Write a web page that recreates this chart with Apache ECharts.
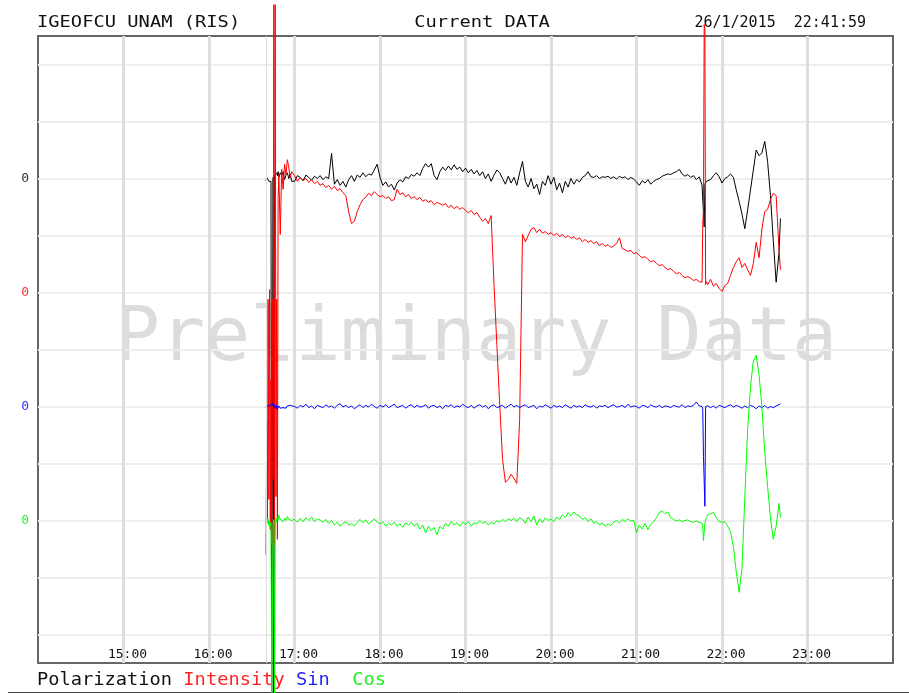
<!DOCTYPE html>
<html><head><meta charset="utf-8">
<script src="https://cdn.jsdelivr.net/npm/echarts@6/dist/echarts.min.js"></script>
<style>html,body{margin:0;padding:0;background:#fff}#c{width:909px;height:693px}</style>
</head><body><div id="c"></div>
<script>
// sample times, minutes after 16:00
const minutes = [
  40,40.5,41,41.5,42,42.5,43,43.5,44,44.5,45,45.5,46,46.5,47,47.5,48,48.5,49,50,51,52,53,54,55,56,57,58,
  60,62,64,66,68,70,72,74,76,78,
  80,82,84,86,88,90,92,94,96,98,
  100,102,104,106,108,110,112,114,116,118,
  120,122,124,126,128,130,132,134,136,138,
  140,142,144,146,148,150,152,154,156,158,
  160,162,164,166,168,170,172,174,176,178,
  180,182,184,186,188,190,192,194,196,198,
  200,202,204,206,208,210,212,214,216,218,
  220,222,224,226,228,230,232,234,236,238,
  240,242,244,246,248,250,252,254,256,258,
  260,262,264,266,268,270,272,274,276,278,
  280,282,284,286,288,290,292,294,296,298,
  300,302,304,306,308,310,312,314,316,318,
  320,322,324,326,328,330,332,334,336,338,
  340,342,344,
  345,346,346.5,347,347.5,348,348.5,349,350,
  352,354,356,358,360,362,364,366,368,370,372,374,376,378,380,382,384,386,388,390,392,394,396,398,400,401
];
const polarization = [
  -0.04,0.02,0.05,0.02,-0.05,-0.04,-0.02,-0.05,-9.2,-9.2,0.02,-9.2,0.05,0.08,0.03,0.1,0.05,0.12,0.02,0.1,0.05,0.12,-0.02,0.06,0.1,0.0,0.08,-0.05,
  -0.05,0.05,0.02,-0.04,0.06,0.02,-0.03,0.04,0.0,0.05,
  -0.02,0.03,0.0,0.44,-0.1,-0.02,-0.12,-0.05,-0.15,-0.02,
  0.05,-0.05,0.06,0.02,0.1,0.03,0.08,0.06,0.15,0.25,
  0.02,-0.12,-0.06,-0.15,-0.1,-0.2,-0.08,-0.02,-0.06,0.03,
  0.0,0.07,0.04,0.1,0.05,0.18,0.26,0.2,0.26,0.05,
  -0.02,0.12,0.2,0.14,0.22,0.15,0.24,0.16,0.2,0.12,
  0.18,0.1,0.16,0.08,0.14,0.05,0.12,0.0,0.08,-0.05,
  0.06,0.15,0.1,0.0,-0.1,0.04,-0.08,0.02,-0.12,0.1,
  0.3,-0.05,-0.15,0.0,-0.18,-0.1,-0.28,-0.05,-0.12,0.05,
  -0.1,0.02,-0.2,-0.08,-0.25,-0.05,-0.15,0.0,-0.1,-0.02,
  -0.06,0.02,0.05,0.12,0.03,0.02,0.05,0.0,0.03,0.02,
  0.04,0.0,0.03,-0.01,0.04,0.01,0.03,-0.02,0.02,-0.01,
  -0.06,-0.12,-0.04,-0.08,-0.02,-0.1,-0.05,-0.02,0.0,0.04,
  0.06,0.08,0.07,0.1,0.12,0.16,0.08,0.04,0.07,0.02,
  0.05,-0.02,0.03,
  0.0,-0.12,-0.15,-0.6,-0.85,-0.1,-0.08,-0.05,-0.06,
  -0.02,0.05,0.1,0.03,-0.08,0.0,0.03,0.08,0.02,-0.2,-0.4,-0.62,-0.88,-0.55,-0.2,0.15,0.5,0.4,0.45,0.65,0.3,-0.3,-1.1,-1.82,-1.3,-0.7
];
const intensity = [
  -4.6,-2.23,-3.98,-0.12,-3.63,0.05,-4.16,-1.53,-4.42,-0.12,-3.28,5.05,-4.42,5.05,-3.58,-0.12,-4.33,1.63,2.07,1.02,2.16,1.81,2.25,2.07,2.33,2.19,2.02,2.12,
  2.05,1.95,2.02,1.96,2.0,1.93,1.98,1.91,1.95,1.88,
  1.91,1.84,1.88,1.81,1.86,1.79,1.82,1.75,1.7,1.42,
  1.21,1.25,1.42,1.54,1.63,1.67,1.74,1.7,1.77,1.72,
  1.68,1.7,1.65,1.68,1.61,1.63,1.81,1.72,1.75,1.68,
  1.72,1.65,1.68,1.63,1.67,1.6,1.63,1.58,1.61,1.54,
  1.58,1.56,1.53,1.56,1.49,1.53,1.47,1.51,1.46,1.49,
  1.44,1.4,1.44,1.37,1.4,1.32,1.25,1.3,1.21,1.35,
  0.14,-0.91,-1.96,-2.93,-3.33,-3.28,-3.19,-3.26,-3.35,-2.23,
  1.02,0.89,1.0,1.11,1.14,1.05,1.11,1.04,1.07,1.02,
  1.05,1.0,1.04,0.98,1.02,0.96,1.0,0.95,0.98,0.93,
  0.96,0.89,0.93,0.88,0.91,0.86,0.89,0.82,0.86,0.81,
  0.84,0.79,0.82,0.86,0.96,0.77,0.75,0.72,0.74,0.68,
  0.7,0.65,0.61,0.63,0.58,0.54,0.56,0.51,0.47,0.49,
  0.44,0.4,0.42,0.37,0.33,0.35,0.3,0.26,0.28,0.25,
  0.21,0.23,0.19,
  0.21,0.18,1.19,1.46,4.7,4.61,0.14,0.19,0.14,
  0.23,0.11,0.16,0.07,0.02,0.12,0.16,0.3,0.44,0.54,0.61,0.44,0.51,0.4,0.3,0.51,0.88,0.61,1.11,1.42,1.46,1.63,1.74,1.7,0.75,0.4
];
const sinValues = [
  -0.02,0.0,0.02,-0.01,0.03,0.0,0.04,0.01,0.05,0.02,0.06,-0.02,0.03,0.0,-0.04,0.02,-0.05,-0.02,0.01,-0.03,-0.06,-0.02,0.0,-0.03,0.01,-0.02,0.02,-0.01,
  0.0,-0.03,0.02,-0.01,0.04,-0.02,0.01,-0.04,0.02,0.0,
  -0.02,0.03,-0.01,0.01,-0.03,0.02,0.05,-0.01,0.02,-0.02,
  0.01,-0.04,0.0,0.03,-0.02,0.02,-0.01,0.04,0.0,-0.03,
  0.02,-0.01,0.03,-0.02,0.01,0.04,-0.02,0.0,0.02,-0.03,
  0.01,0.03,-0.02,0.02,-0.01,0.0,0.03,-0.03,0.01,0.02,
  -0.02,0.01,-0.04,0.02,0.0,0.03,-0.02,0.01,-0.01,0.04,
  0.0,-0.02,0.02,-0.03,0.01,0.03,-0.01,0.02,-0.04,0.01,
  0.03,-0.02,0.0,0.02,-0.03,0.01,0.04,-0.01,0.02,-0.02,
  0.01,0.03,-0.02,0.0,0.02,-0.04,0.01,-0.01,0.03,0.0,
  -0.03,0.02,-0.01,0.01,-0.02,0.03,0.0,-0.03,0.02,-0.01,
  0.01,-0.02,0.03,0.0,-0.01,0.02,-0.03,0.01,0.0,0.02,
  -0.02,0.01,0.03,-0.01,0.0,0.02,-0.02,0.04,-0.01,0.01,
  0.0,-0.03,0.02,0.01,-0.02,0.03,0.0,-0.01,0.02,-0.02,
  0.01,0.0,-0.02,0.02,0.0,-0.01,0.03,-0.02,0.01,0.0,
  0.02,0.08,0.01,
  0.02,0.0,-0.05,-0.88,-0.88,-1.75,0.0,-0.02,0.01,
  -0.02,0.01,-0.03,0.02,0.0,-0.02,0.01,0.03,-0.01,0.02,0.0,-0.03,0.01,-0.02,0.02,0.0,-0.04,0.01,-0.02,0.02,-0.03,0.0,-0.02,0.01,0.03,0.05
];
const cosValues = [
  0.0,0.05,-0.05,0.02,-0.09,-0.02,-0.1,-0.04,-3.25,-3.25,-0.07,0.02,-3.25,-0.02,0.04,-0.04,0.05,0.0,0.09,0.02,0.05,-0.02,0.04,0.0,0.07,0.02,0.05,0.0,
  0.02,-0.03,0.04,-0.02,0.05,0.0,0.06,-0.02,0.03,0.01,
  -0.03,0.02,-0.05,0.0,-0.08,-0.03,-0.1,-0.05,-0.02,-0.08,
  -0.05,-0.1,-0.03,0.02,-0.04,0.01,-0.06,-0.02,0.03,-0.03,
  -0.06,-0.02,-0.1,-0.05,-0.08,-0.03,-0.1,-0.06,-0.12,-0.04,
  -0.08,-0.03,-0.1,-0.05,-0.15,-0.08,-0.22,-0.1,-0.18,-0.12,
  -0.25,-0.1,-0.15,-0.05,-0.1,-0.02,-0.08,-0.04,-0.1,-0.03,
  -0.07,-0.02,-0.1,-0.04,-0.06,0.0,-0.05,-0.02,-0.08,-0.03,
  -0.06,0.0,-0.03,0.02,-0.02,0.03,0.0,0.04,-0.02,0.05,
  0.02,-0.05,0.06,-0.02,0.08,-0.08,0.03,-0.04,0.05,0.0,
  0.03,-0.02,0.06,0.02,0.1,0.05,0.14,0.08,0.15,0.1,
  0.08,0.02,0.05,-0.02,0.03,-0.05,-0.02,-0.08,-0.04,-0.1,
  -0.06,-0.09,-0.03,0.0,-0.04,0.02,-0.02,0.03,-0.01,0.0,
  -0.21,-0.08,-0.15,-0.05,-0.16,-0.07,-0.02,0.05,0.14,0.17,
  0.12,0.15,0.05,0.02,-0.01,0.01,-0.02,0.0,0.01,-0.02,
  -0.03,-0.01,-0.03,
  -0.03,-0.05,-0.1,-0.35,-0.2,-0.05,0.0,0.05,0.1,
  0.12,0.14,0.05,-0.02,-0.03,-0.02,-0.1,-0.2,-0.46,-0.9,-1.26,-0.85,0.4,1.6,2.35,2.8,2.9,2.55,2.0,1.2,0.6,0.05,-0.33,-0.1,0.3,0.05
];

const traceNames = ['Polarization', 'Intensity', 'Sin', 'Cos'];
const traceValues = [polarization, intensity, sinValues, cosValues];
const traceColors = ['#000000', '#ff0000', '#0000ff', '#00ff00'];
const traceZero = [8, 6, 4, 2];
const labelColors = {8: '#333333', 6: '#ff3333', 4: '#3333ff', 2: '#33ee33'};
const hourMin = 14, hourMax = 24;

traceValues.forEach((arr, i) => {
  if (arr.length !== minutes.length) throw new Error(traceNames[i] + ' length ' + arr.length + ' vs ' + minutes.length);
});

const mono = 'DejaVu Sans Mono';
const chart = echarts.init(document.getElementById('c'), null, {renderer: 'canvas'});

const series = traceNames.map((name, i) => ({
  name, type: 'line', showSymbol: false, symbol: 'none', clip: false, silent: true,
  animation: false,
  lineStyle: {color: traceColors[i], width: 1},
  itemStyle: {color: traceColors[i]},
  emphasis: {disabled: true},
  data: minutes.map((m, k) => [16 + m / 60, traceZero[i] + traceValues[i][k]]),
  markLine: i === 0 ? {
    silent: true, symbol: 'none', animation: false, label: {show: false},
    lineStyle: {color: '#dddddd', width: 1, type: 'solid'},
    data: [{xAxis: 16 + minutes[0] / 60}]
  } : undefined
}));

chart.setOption({
  animation: false,
  backgroundColor: '#ffffff',
  grid: {left: 38, right: 16, top: 36, bottom: 30, show: true, borderColor: '#666666', borderWidth: 2,
         containLabel: false, outerBoundsMode: 'none'},
  xAxis: {
    type: 'value', min: hourMin, max: hourMax, interval: 1,
    axisLine: {show: false}, axisTick: {show: false},
    splitLine: {show: true, showMinLine: false, showMaxLine: false, lineStyle: {color: '#dddddd', width: 3}},
    axisLabel: {inside: true, margin: 2, showMinLabel: false, showMaxLabel: false,
      fontFamily: mono, fontSize: 13, color: '#111111', padding: [0, 0, 0, 8],
      formatter: v => v + ':00'}
  },
  yAxis: {
    type: 'value', min: -0.5, max: 10.5, interval: 0.5,
    axisLine: {show: false}, axisTick: {show: false},
    splitLine: {show: true, lineStyle: {color: ['rgba(0,0,0,0)', '#eeeeee'], width: 2}},
    axisLabel: {margin: 9, fontFamily: mono, fontSize: 13,
      formatter: v => labelColors[v] ? '{c' + v + '|0}' : '',
      rich: {
        c8: {color: labelColors[8], fontFamily: mono, fontSize: 13},
        c6: {color: labelColors[6], fontFamily: mono, fontSize: 13},
        c4: {color: labelColors[4], fontFamily: mono, fontSize: 13},
        c2: {color: labelColors[2], fontFamily: mono, fontSize: 13}
      }}
  },
  graphic: [
    {type: 'text', x: 476, y: 341, silent: true, z: 0,
     style: {text: 'Preliminary Data', fontFamily: mono, fontSize: 75, fill: '#dcdcdc', align: 'center', verticalAlign: 'middle'}},
    {type: 'text', x: 37, y: 23, scaleX: 1.25, silent: true,
     style: {text: 'IGEOFCU UNAM (RIS)', fontFamily: mono, fontSize: 15, fill: '#111111', align: 'left', verticalAlign: 'middle'}},
    {type: 'text', x: 482, y: 23, scaleX: 1.25, silent: true,
     style: {text: 'Current DATA', fontFamily: mono, fontSize: 15, fill: '#111111', align: 'center', verticalAlign: 'middle'}},
    {type: 'text', x: 866, y: 23, silent: true,
     style: {text: '26/1/2015  22:41:59', fontFamily: mono, fontSize: 15, fill: '#111111', align: 'right', verticalAlign: 'middle'}},
    {type: 'text', x: 37, y: 681, scaleX: 1.1, silent: true,
     style: {text: 'Polarization {r|Intensity} {b|Sin}  {g|Cos}', fontFamily: mono, fontSize: 17, fill: '#111111',
       align: 'left', verticalAlign: 'middle',
       rich: {r: {fill: '#ff2222', fontFamily: mono, fontSize: 17},
              b: {fill: '#2222ff', fontFamily: mono, fontSize: 17},
              g: {fill: '#22ee22', fontFamily: mono, fontSize: 17}}}},
    {type: 'line', silent: true, shape: {x1: 8, y1: 692.5, x2: 909, y2: 692.5}, style: {stroke: '#444444', lineWidth: 1}}
  ],
  series
});
</script>
</body></html>
